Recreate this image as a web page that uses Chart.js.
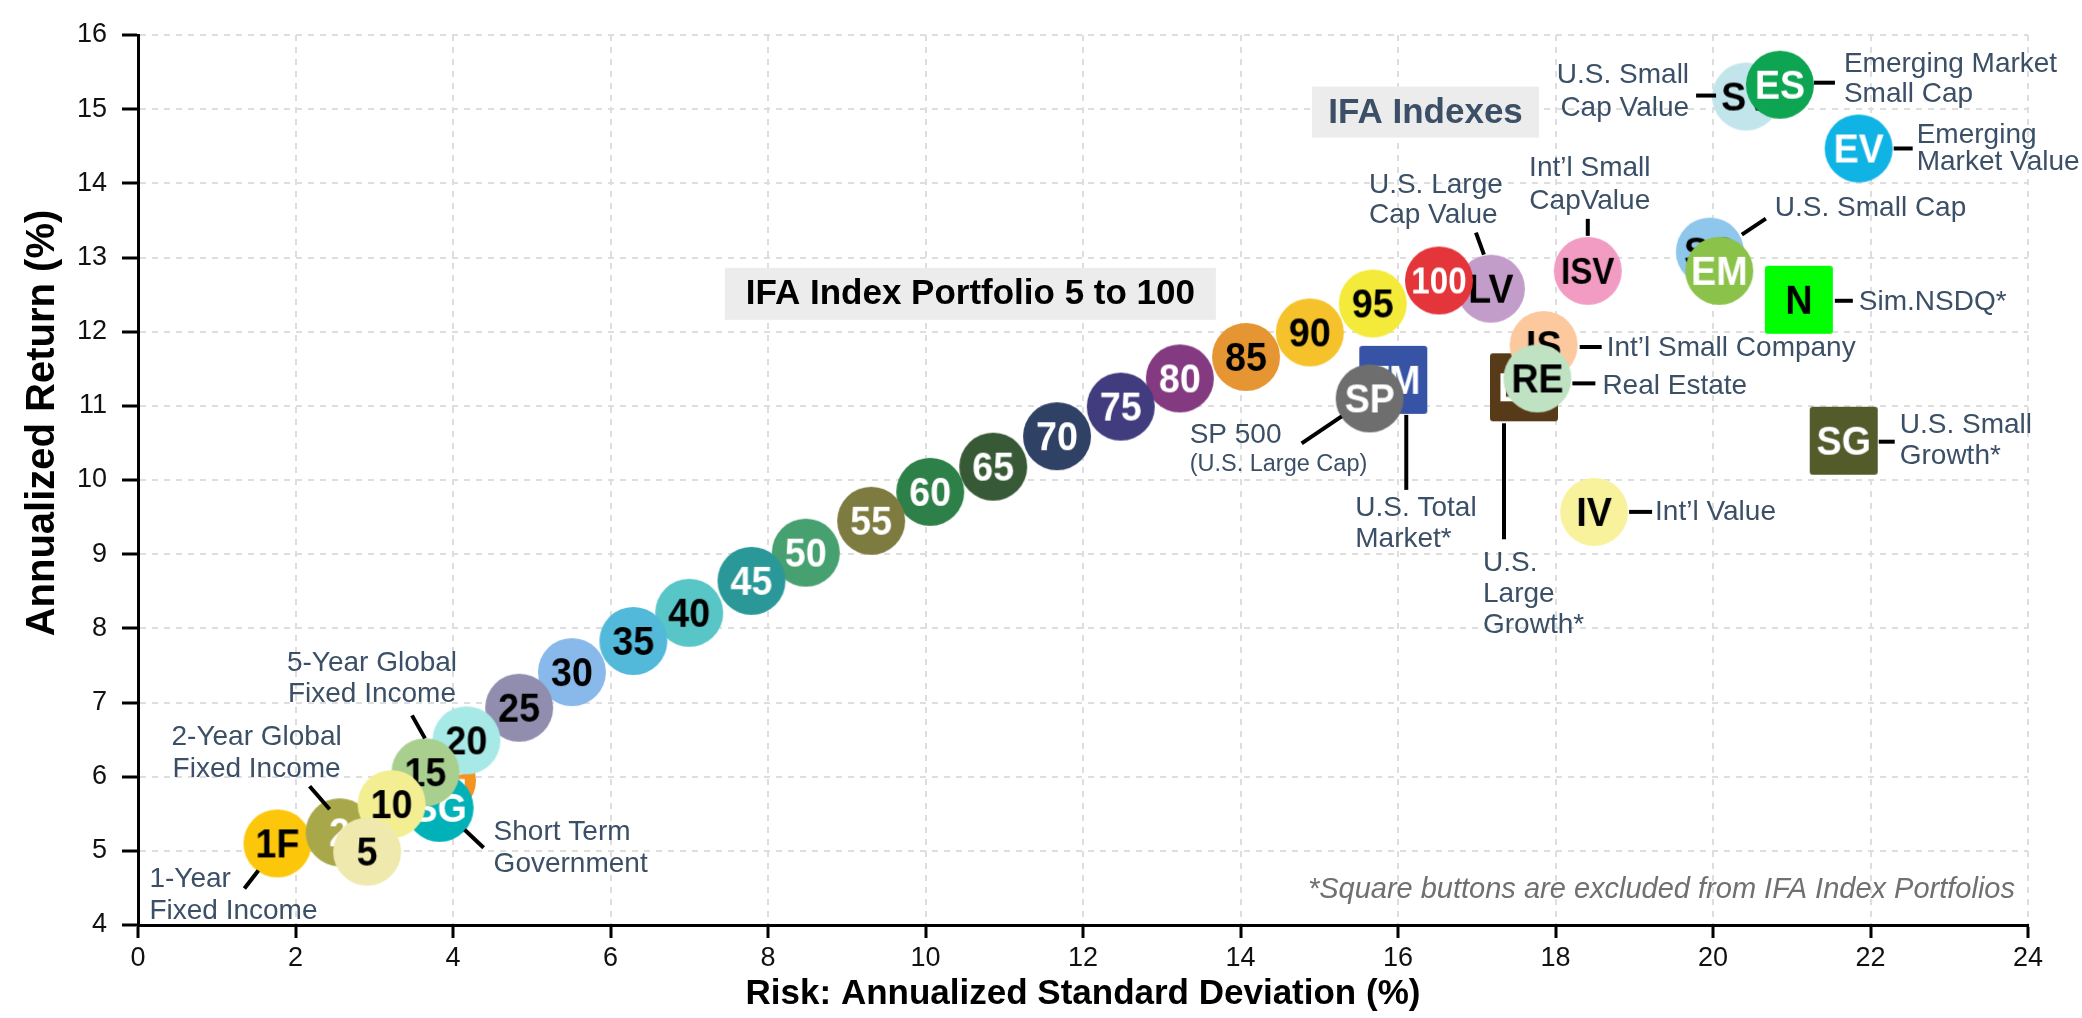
<!DOCTYPE html>
<html>
<head>
<meta charset="utf-8">
<title>IFA Index Portfolios – Risk vs Return</title>
<script src="https://cdn.jsdelivr.net/npm/chart.js@4.4.1/dist/chart.umd.min.js"></script>
<style>
  html, body { margin: 0; padding: 0; background: #fff; }
  #wrap { width: 2082px; height: 1018px; }
</style>
</head>
<body>
<div id="wrap"><canvas id="riskChart" width="2082" height="1018"></canvas></div>
<script>
// IFA Index Portfolios 5 to 100 (risk = annualized std dev %, return = annualized %)
var portfolioNames  = ['5', '10', '15', '20', '25', '30', '35', '40', '45', '50',
                       '55', '60', '65', '70', '75', '80', '85', '90', '95', '100'];
var portfolioRisk   = [2.91, 3.22, 3.65, 4.17, 4.84, 5.51, 6.29, 7.00, 7.79, 8.48,
                       9.31, 10.06, 10.86, 11.67, 12.48, 13.23, 14.07, 14.88, 15.68, 16.52];
var portfolioReturn = [4.99, 5.63, 6.06, 6.49, 6.93, 7.41, 7.83, 8.21, 8.64, 9.02,
                       9.45, 9.84, 10.18, 10.59, 10.99, 11.37, 11.66, 11.99, 12.38, 12.69];
var portfolioColors = ['#efe9ae', '#f4ee93', '#a9cf8f', '#a6e9e6', '#918dae', '#89b9ea', '#52b9db', '#58c5c6', '#2a9898', '#47a06f',
                       '#7d7b3f', '#2e8049', '#385936', '#2f4164', '#413c7e', '#833a80', '#e69533', '#f6c22c', '#f4ea3a', '#e3353a'];
var portfolioInk    = ['#000', '#000', '#000', '#000', '#000', '#000', '#000', '#000', '#fff', '#fff',
                       '#fff', '#fff', '#fff', '#fff', '#fff', '#fff', '#000', '#000', '#000', '#fff'];

// fixed income funds (sit behind the portfolios)
var bondNames  = ['1F', '2', '5G', 'SG'];
var bondRisk   = [1.77, 2.56, 3.86, 3.83];
var bondReturn = [5.10, 5.25, 5.95, 5.58];
var bondColors = ['#fcc70a', '#a8a84a', '#f39322', '#00b1b8'];
var bondInk    = ['#000', '#fff', '#fff', '#fff'];

// IFA Indexes, listed back to front
var indexNames  = ['TM', 'LG', 'IS', 'SG', 'N', 'SV', 'SC', 'LV', 'ISV', 'EV', 'IV', 'SP', 'RE', 'ES', 'EM'];
var indexRisk   = [15.94, 17.60, 17.85, 21.66, 21.09, 20.42, 19.96, 17.18, 18.41, 21.85, 18.49, 15.64, 17.77, 20.85, 20.08];
var indexReturn = [11.35, 11.25, 11.82, 10.53, 12.43, 15.17, 13.08, 12.58, 12.82, 14.47, 9.57, 11.10, 11.37, 15.33, 12.82];
var indexSquare = [true, true, false, true, true, false, false, false, false, false, false, false, false, false, false];
var indexColors = ['#3753a5', '#573b19', '#fcc89e', '#535b2b', '#00ff00', '#c2e5ec', '#8ec6ec', '#c39dc9', '#f29cc3', '#0fb4e5',
                   '#f8f29d', '#6e6e6e', '#bfe2c3', '#0ea552', '#8bc34a'];
var indexInk    = ['#fff', '#fff', '#000', '#fff', '#000', '#000', '#000', '#000', '#000', '#fff',
                   '#000', '#fff', '#000', '#fff', '#fff'];

var xTicks = [0, 2, 4, 6, 8, 10, 12, 14, 16, 18, 20, 22, 24];
var yTicks = [4, 5, 6, 7, 8, 9, 10, 11, 12, 13, 14, 15, 16];

// callouts: which point, leader line (px offsets from centre), text lines and anchor
var callouts = [
  { set: 'bond', i: 0, line: [-33, 45, -19, 27], text: ['1-Year', 'Fixed Income'], dx: -128, dy: [36, 68], align: 'left' },
  { set: 'bond', i: 1, line: [-30, -46, -10, -23], text: ['2-Year Global', 'Fixed Income'], dx: -83, dy: [-95, -63], align: 'center' },
  { set: 'bond', i: 2, line: [-30, -65, -17, -42], text: ['5-Year Global', 'Fixed Income'], dx: -70, dy: [-117, -86], align: 'center' },
  { set: 'bond', i: 3, line: [25, 22, 44, 40], text: ['Short Term', 'Government'], dx: 54, dy: [24, 56], align: 'left' },
  { set: 'index', i: 0, line: [13, 35, 13, 110], text: ['U.S. Total', 'Market*'], dx: -38, dy: [128, 159], align: 'left' },
  { set: 'index', i: 1, line: [-20, 36, -20, 152], text: ['U.S.', 'Large', 'Growth*'], dx: -41, dy: [176, 207, 238], align: 'left' },
  { set: 'index', i: 2, line: [36, 2, 58, 2], text: ['Int\u2019l Small Company'], dx: 63, dy: [3], align: 'left' },
  { set: 'index', i: 3, line: [35, 1, 51, 1], text: ['U.S. Small', 'Growth*'], dx: 56, dy: [-15, 16], align: 'left' },
  { set: 'index', i: 4, line: [36, 1, 54, 1], text: ['Sim.NSDQ*'], dx: 60, dy: [3], align: 'left' },
  { set: 'index', i: 5, line: [-50, -1, -30, -1], text: ['U.S. Small', 'Cap Value'], dx: -57, dy: [-21, 12], align: 'right' },
  { set: 'index', i: 6, line: [32, -17, 56, -33], text: ['U.S. Small Cap'], dx: 65, dy: [-43], align: 'left' },
  { set: 'index', i: 7, line: [-15, -56, -7, -34], text: ['U.S. Large', 'Cap Value'], dx: -122, dy: [-103, -73], align: 'left' },
  { set: 'index', i: 8, line: [0, -52, 0, -35], text: ['Int\u2019l Small', 'CapValue'], dx: 2, dy: [-103, -70], align: 'center' },
  { set: 'index', i: 9, line: [35, 0, 54, 0], text: ['Emerging', 'Market Value'], dx: 58, dy: [-13, 14], align: 'left' },
  { set: 'index', i: 10, line: [35, 0, 58, 0], text: ['Int\u2019l Value'], dx: 61, dy: [0], align: 'left' },
  { set: 'index', i: 11, line: [-68, 45, -28, 18], text: ['SP 500', '(U.S. Large Cap)'], dx: -180, dy: [37, 66], align: 'left', sizes: [28, 23.5] },
  { set: 'index', i: 12, line: [35, 5, 58, 5], text: ['Real Estate'], dx: 65, dy: [8], align: 'left' },
  { set: 'index', i: 13, line: [34, -2, 55, -2], text: ['Emerging Market', 'Small Cap'], dx: 64, dy: [-20, 10], align: 'left' }
];

var FONT = '"Liberation Sans", Arial, Helvetica, sans-serif';

// a button: filled circle or square with its short code on it
function makeMarker(label, fill, ink, square) {
  var c = document.createElement('canvas');
  c.width = 72; c.height = 72;
  var g = c.getContext('2d');
  g.fillStyle = fill;
  g.beginPath();
  if (square) {
    g.roundRect(2, 2, 68, 68, 3);
  } else {
    g.arc(36, 36, 34, 0, Math.PI * 2);
  }
  g.fill();
  var fs = label.length > 2 ? 36 : 40;
  var squeeze = label.length > 2 ? 0.92 : 0.94;
  g.font = 'bold ' + fs + 'px ' + FONT;
  g.fillStyle = ink;
  g.textAlign = 'center';
  g.textBaseline = 'alphabetic';
  g.save();
  g.translate(36, 36 + fs * 0.716 / 2);
  g.scale(squeeze, 1);
  g.fillText(label, 0, 0);
  g.restore();
  return c;
}

function points(xs, ys) {
  return xs.map(function (x, k) { return { x: x, y: ys[k] }; });
}

// portfolios go back to front from 100 down to 5
var pfOrder = portfolioNames.map(function (n, k) { return k; }).reverse();
var pfData = pfOrder.map(function (k) { return { x: portfolioRisk[k], y: portfolioReturn[k] }; });
var pfMarkers = pfOrder.map(function (k) { return makeMarker(portfolioNames[k], portfolioColors[k], portfolioInk[k], false); });

var bondMarkers = bondNames.map(function (n, k) { return makeMarker(n, bondColors[k], bondInk[k], false); });
var indexMarkers = indexNames.map(function (n, k) { return makeMarker(n, indexColors[k], indexInk[k], indexSquare[k]); });

var calloutPlugin = {
  id: 'callouts',
  afterDatasetsDraw: function (chart) {
    var ctx = chart.ctx, xs = chart.scales.x, ys = chart.scales.y, area = chart.chartArea;
    ctx.save();

    // group boxes
    function box(text, cx, cy, w, h, colour) {
      var px = xs.getPixelForValue(cx), py = ys.getPixelForValue(cy);
      ctx.fillStyle = '#ececec';
      ctx.fillRect(px - w / 2, py - h / 2, w, h);
      ctx.fillStyle = colour;
      ctx.font = 'bold 35px ' + FONT;
      ctx.textAlign = 'center';
      ctx.textBaseline = 'middle';
      ctx.fillText(text, px, py + 1);
    }
    box('IFA Index Portfolio 5 to 100', 10.57, 12.51, 491, 52, '#000');
    box('IFA Indexes', 16.35, 14.96, 227, 51, '#3b4f66');

    callouts.forEach(function (c) {
      var rx = c.set === 'bond' ? bondRisk[c.i] : indexRisk[c.i];
      var ry = c.set === 'bond' ? bondReturn[c.i] : indexReturn[c.i];
      var px = xs.getPixelForValue(rx), py = ys.getPixelForValue(ry);
      ctx.strokeStyle = '#000';
      ctx.lineWidth = 4;
      ctx.lineCap = 'butt';
      ctx.beginPath();
      ctx.moveTo(px + c.line[0], py + c.line[1]);
      ctx.lineTo(px + c.line[2], py + c.line[3]);
      ctx.stroke();
      ctx.fillStyle = '#3b4f66';
      ctx.textAlign = c.align;
      ctx.textBaseline = 'middle';
      c.text.forEach(function (t, k) {
        var fs = c.sizes ? c.sizes[k] : 28;
        ctx.font = fs + 'px ' + FONT;
        ctx.fillText(t, px + c.dx, py + c.dy[k]);
      });
    });

    // footnote
    ctx.font = 'italic 29px ' + FONT;
    ctx.fillStyle = '#707070';
    ctx.textAlign = 'right';
    ctx.textBaseline = 'middle';
    ctx.fillText('*Square buttons are excluded from IFA Index Portfolios', area.right - 13, area.bottom - 35);

    // axis titles
    ctx.fillStyle = '#000';
    ctx.textAlign = 'center';
    ctx.font = 'bold 35px ' + FONT;
    ctx.fillText('Risk: Annualized Standard Deviation (%)', (area.left + area.right) / 2, 994);
    ctx.translate(43, 423);
    ctx.rotate(-Math.PI / 2);
    ctx.font = 'bold 40px ' + FONT;
    ctx.fillText('Annualized Return (%)', 0, 0);
    ctx.restore();
  }
};

var ctx = document.getElementById('riskChart').getContext('2d');
var riskChart = new Chart(ctx, {
  type: 'scatter',
  data: {
    datasets: [{
      label: 'IFA Index Portfolios',
      data: pfData,
      pointStyle: pfMarkers,
      pointRadius: 34,
      order: 0
    }, {
      label: 'IFA Indexes',
      data: points(indexRisk, indexReturn),
      pointStyle: indexMarkers,
      pointRadius: 34,
      order: 1
    }, {
      label: 'Fixed Income',
      data: points(bondRisk, bondReturn),
      pointStyle: bondMarkers,
      pointRadius: 34,
      order: 2
    }]
  },
  options: {
    responsive: false,
    devicePixelRatio: 1,
    animation: false,
    events: [],
    layout: { padding: { top: 16, right: 54, left: 0, bottom: 0 } },
    plugins: { legend: { display: false }, tooltip: { enabled: false } },
    scales: {
      x: {
        type: 'linear',
        min: 0, max: 24,
        afterFit: function (s) { s.height = 93; },
        afterBuildTicks: function (s) { s.ticks = xTicks.map(function (v) { return { value: v }; }); },
        grid: { color: '#dedede', lineWidth: 2, drawTicks: true, tickLength: 13, tickColor: '#000', tickWidth: 3 },
        border: { display: true, color: '#000', width: 3, dash: [6, 6] },
        ticks: { color: '#111', padding: 4, font: { family: FONT, size: 27 }, maxRotation: 0 }
      },
      y: {
        type: 'linear',
        min: 4, max: 16,
        afterFit: function (s) { s.width = 138; },
        afterBuildTicks: function (s) { s.ticks = yTicks.map(function (v) { return { value: v }; }); },
        grid: { color: '#dedede', lineWidth: 2, drawTicks: true, tickLength: 16, tickColor: '#000', tickWidth: 3 },
        border: { display: true, color: '#000', width: 3, dash: [6, 6] },
        ticks: { color: '#111', padding: 15, font: { family: FONT, size: 27 } }
      }
    }
  },
  plugins: [calloutPlugin]
});
</script>
</body>
</html>
